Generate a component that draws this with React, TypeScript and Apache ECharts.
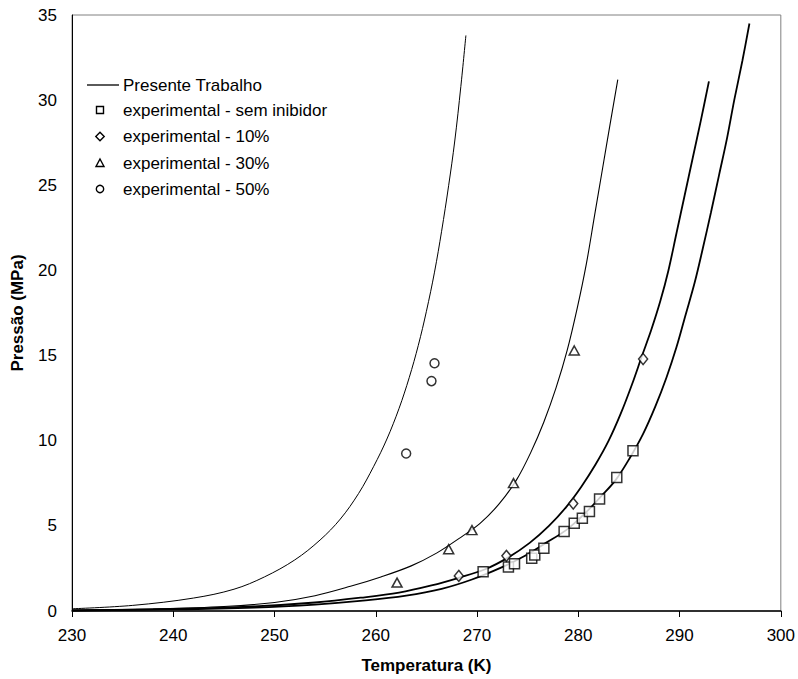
import React, { useEffect, useRef } from "react";
import * as echarts from "echarts";

// Model curves ("Presente Trabalho")
const tempA = [230, 236, 242, 246, 249, 252, 254.5, 256.5, 258.3, 259.8, 261.1, 262.3, 263.3, 264.2, 265.0, 265.8, 266.5, 267.2, 267.8, 268.4, 268.9];
const presA = [0.13, 0.33, 0.76, 1.28, 2.0, 3.0, 4.17, 5.4, 6.9, 8.5, 10.1, 11.9, 13.7, 15.6, 17.6, 19.9, 22.3, 25.0, 27.6, 30.8, 33.8];

const tempB = [230, 238, 245, 250, 254, 257.5, 260.5, 263.5, 266, 268.2, 270.3, 272.2, 273.9, 275.3, 276.6, 277.8, 278.9, 279.9, 280.8, 281.6, 282.4, 283.2, 283.9];
const presB = [0.04, 0.12, 0.26, 0.5, 0.9, 1.45, 2.0, 2.65, 3.4, 4.25, 5.15, 6.3, 7.7, 9.3, 11.1, 13.1, 15.3, 17.8, 20.4, 23.2, 26.0, 28.8, 31.2];

const tempC = [230, 240, 248, 254, 258.5, 262.3, 265.5, 268.2, 270.8, 273.1, 275.2, 277.1, 278.8, 280.3, 281.7, 283.0, 284.2, 285.3, 286.3, 287.2, 288.1, 288.9, 289.7, 290.5, 291.3, 292.1, 292.9];
const presC = [0.04, 0.12, 0.27, 0.5, 0.78, 1.08, 1.5, 1.95, 2.45, 3.15, 4.0, 5.0, 6.1, 7.3, 8.6, 10.0, 11.6, 13.3, 15.0, 16.5, 18.2, 20.0, 22.2, 24.4, 26.6, 28.8, 31.1];

const tempD = [230, 240, 248, 254, 259, 263, 266.5, 269.5, 272.2, 274.6, 276.8, 278.8, 280.6, 282.2, 283.7, 285.1, 286.4, 287.6, 288.7, 289.7, 290.6, 291.5, 292.3, 293.1, 293.9, 294.7, 295.4, 296.2, 296.9];
const presD = [0.03, 0.09, 0.2, 0.38, 0.62, 0.9, 1.3, 1.85, 2.5, 3.2, 4.0, 4.75, 5.7, 6.7, 7.7, 9.0, 10.4, 12.0, 13.7, 15.5, 17.4, 19.3, 21.3, 23.4, 25.6, 27.8, 30.0, 32.3, 34.5];

// Experimental points
const tempSem = [270.6, 273.1, 273.7, 275.4, 275.7, 276.6, 278.6, 279.6, 280.4, 281.1, 282.1, 283.8, 285.4];
const presSem = [2.31, 2.59, 2.78, 3.1, 3.29, 3.69, 4.67, 5.16, 5.45, 5.84, 6.57, 7.84, 9.41];

const temp10 = [268.2, 272.9, 279.5, 286.4];
const pres10 = [2.06, 3.24, 6.31, 14.8];

const temp30 = [262.1, 267.2, 269.5, 273.6, 279.6];
const pres30 = [1.67, 3.63, 4.75, 7.51, 15.3];

const temp50 = [263.0, 265.5, 265.8];
const pres50 = [9.25, 13.5, 14.55];

const xTicks = [230, 240, 250, 260, 270, 280, 290, 300];
const yTicks = [0, 5, 10, 15, 20, 25, 30, 35];

const legendLabels = [
  "Presente Trabalho",
  "experimental - sem inibidor",
  "experimental - 10%",
  "experimental - 30%",
  "experimental - 50%",
];

const FONT = "'Liberation Sans', Arial, Helvetica, sans-serif";

const zip = (xs: number[], ys: number[]) => xs.map((x, i) => [x, ys[i]]);

export default function App() {
  const ref = useRef<HTMLDivElement>(null);

  useEffect(() => {
    document.body.style.margin = "0";
    if (!ref.current) return;
    const chart = echarts.init(ref.current, null, { renderer: "svg" });

    const lineSeries = (name: string, xs: number[], ys: number[], w: number) => ({
      name,
      type: "line",
      data: zip(xs, ys),
      showSymbol: false,
      symbol: "none",
      smooth: 0.35,
      lineStyle: { color: "#000", width: w },
      silent: true,
      z: 2,
    });

    const scatterSeries = (name: string, xs: number[], ys: number[], symbol: string, size: any) => ({
      name,
      type: "scatter",
      data: zip(xs, ys),
      symbol,
      symbolSize: size,
      itemStyle: { color: "#fff", borderColor: "#000", borderWidth: 1.5 },
      z: 3,
    });

    const rowY = [85, 110, 136.5, 163, 189];
    const mx = 100;
    const ms = 3.5;
    const stroke = { fill: "#fff", stroke: "#000", lineWidth: 1.4 };
    const legendGraphics: any[] = [
      { type: "line", shape: { x1: 87, y1: rowY[0], x2: 119, y2: rowY[0] }, style: { stroke: "#000", lineWidth: 1.3 } },
      { type: "rect", shape: { x: mx - ms, y: rowY[1] - ms, width: ms * 2, height: ms * 2 }, style: stroke },
      {
        type: "polygon",
        shape: { points: [[mx, rowY[2] - 4.2], [mx + 4.2, rowY[2]], [mx, rowY[2] + 4.2], [mx - 4.2, rowY[2]]] },
        style: stroke,
      },
      {
        type: "polygon",
        shape: { points: [[mx, rowY[3] - 4], [mx + 4, rowY[3] + 3.5], [mx - 4, rowY[3] + 3.5]] },
        style: stroke,
      },
      { type: "circle", shape: { cx: mx, cy: rowY[4], r: 3.7 }, style: stroke },
      ...legendLabels.map((t, i) => ({
        type: "text",
        x: 123,
        y: rowY[i],
        style: { text: t, fill: "#000", font: `17px ${FONT}`, verticalAlign: "middle", align: "left" },
      })),
    ];

    chart.setOption({
      animation: false,
      backgroundColor: "#fff",
      textStyle: { fontFamily: FONT },
      grid: {
        left: 72,
        right: 15,
        top: 15,
        bottom: 68,
        show: true,
        borderColor: "#808080",
        borderWidth: 1,
        containLabel: false,
      },
      xAxis: {
        type: "value",
        min: xTicks[0],
        max: xTicks[xTicks.length - 1],
        interval: 10,
        name: "Temperatura (K)",
        nameLocation: "middle",
        nameGap: 46,
        nameTextStyle: { fontSize: 17, fontWeight: "bold", color: "#000", fontFamily: FONT },
        axisLine: { show: true, onZero: false, lineStyle: { color: "#000", width: 1.5 } },
        axisTick: { show: true, inside: false, length: 6, lineStyle: { color: "#000", width: 1 } },
        axisLabel: { fontSize: 17, color: "#000", margin: 16, fontFamily: FONT },
        splitLine: { show: false },
      },
      yAxis: {
        type: "value",
        min: yTicks[0],
        max: yTicks[yTicks.length - 1],
        interval: 5,
        name: "Pressão (MPa)",
        nameLocation: "middle",
        nameGap: 46,
        nameRotate: 90,
        nameTextStyle: { fontSize: 17, fontWeight: "bold", color: "#000", fontFamily: FONT },
        axisLine: { show: true, onZero: false, lineStyle: { color: "#000", width: 1 } },
        axisTick: { show: false },
        axisLabel: { fontSize: 17, color: "#000", margin: 15, fontFamily: FONT },
        splitLine: { show: false },
      },
      series: [
        lineSeries("Presente Trabalho", tempA, presA, 1),
        lineSeries("Presente Trabalho ", tempB, presB, 1.1),
        lineSeries("Presente Trabalho  ", tempC, presC, 1.8),
        lineSeries("Presente Trabalho   ", tempD, presD, 1.8),
        scatterSeries("experimental - sem inibidor", tempSem, presSem, "rect", 10),
        scatterSeries("experimental - 10%", temp10, pres10, "diamond", [9, 11]),
        scatterSeries("experimental - 30%", temp30, pres30, "triangle", [10, 9]),
        scatterSeries("experimental - 50%", temp50, pres50, "circle", 9),
      ],
      graphic: legendGraphics,
    });

    return () => chart.dispose();
  }, []);

  return <div ref={ref} style={{ width: 798, height: 679 }} />;
}
